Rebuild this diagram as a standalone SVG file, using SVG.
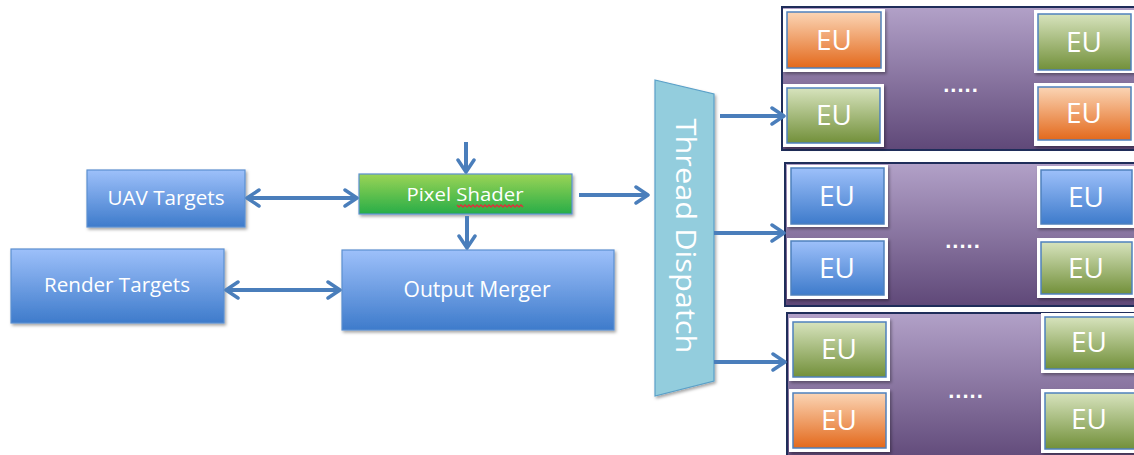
<svg xmlns="http://www.w3.org/2000/svg" width="1134" height="455" viewBox="0 0 1134 455">
<defs>
<linearGradient id="gBlue" x1="0" y1="0" x2="0" y2="1"><stop offset="0" stop-color="#9dc0fa"/><stop offset="1" stop-color="#3e7bcb"/></linearGradient>
<linearGradient id="gPS" x1="0" y1="0" x2="0" y2="1"><stop offset="0" stop-color="#9bd455"/><stop offset="1" stop-color="#27ad48"/></linearGradient>
<linearGradient id="gGreen" x1="0" y1="0" x2="0" y2="1"><stop offset="0" stop-color="#d7e3bd"/><stop offset="1" stop-color="#72903a"/></linearGradient>
<linearGradient id="gOrange" x1="0" y1="0" x2="0" y2="1"><stop offset="0" stop-color="#fbd5b5"/><stop offset="1" stop-color="#e3691c"/></linearGradient>
<linearGradient id="gPurple" x1="0" y1="0" x2="0" y2="1"><stop offset="0" stop-color="#b2a1c8"/><stop offset="1" stop-color="#5f4878"/></linearGradient>
<filter id="sh" x="-10%" y="-10%" width="130%" height="140%"><feDropShadow dx="1.5" dy="2" stdDeviation="1.5" flood-color="#000" flood-opacity="0.35"/></filter>
<marker id="ah" viewBox="0 0 20 20" refX="17" refY="10" markerWidth="20" markerHeight="20" markerUnits="userSpaceOnUse" orient="auto-start-reverse">
<path d="M5,2 L17,10 L5,18" fill="none" stroke="#4a7ebb" stroke-width="3.5" stroke-linecap="round" stroke-linejoin="round"/>
</marker>
</defs>
<style>
.box{stroke:#5b8fd0;stroke-width:1.2;filter:url(#sh)}
.lbl{font-family:"Open Sans","Liberation Sans",sans-serif;fill:#ffffff;text-anchor:middle}
.conn{stroke:#4a7ebb;stroke-width:4;fill:none}
.frame{fill:#ffffff;filter:url(#sh)}
.eu{stroke:#4f81bd;stroke-width:1.5}
.eut{font-family:"Open Sans","Liberation Sans",sans-serif;font-size:28px;fill:#ffffff;text-anchor:middle}
.grp{fill:url(#gPurple);stroke:#1f2d5a;stroke-width:2}
.dots{font-family:"Liberation Sans",sans-serif;font-size:22px;font-weight:bold;fill:#ffffff;text-anchor:middle;letter-spacing:1px}
</style>

<g id="uav-targets">
<rect class="box" x="87" y="170" width="158" height="57" fill="url(#gBlue)"/>
<text class="lbl" x="166" y="205" font-size="20" textLength="117" lengthAdjust="spacingAndGlyphs">UAV Targets</text>
</g>
<g id="render-targets">
<rect class="box" x="11" y="249" width="213" height="74" fill="url(#gBlue)"/>
<text class="lbl" x="117" y="292" font-size="20" textLength="146" lengthAdjust="spacingAndGlyphs">Render Targets</text>
</g>
<g id="pixel-shader">
<rect class="box" x="359" y="174" width="213" height="40" fill="url(#gPS)" stroke="#2e9a40"/>
<text class="lbl" x="465" y="201" font-size="19" textLength="117" lengthAdjust="spacingAndGlyphs">Pixel Shader</text>
<path d="M457,205 l2,2 l2,-2 l2,2 l2,-2 l2,2 l2,-2 l2,2 l2,-2 l2,2 l2,-2 l2,2 l2,-2 l2,2 l2,-2 l2,2 l2,-2 l2,2 l2,-2 l2,2 l2,-2 l2,2 l2,-2 l2,2 l2,-2 l2,2 l2,-2 l2,2 l2,-2 l2,2 l2,-2 l2,2 l2,-2 l2,2" fill="none" stroke="#e0303a" stroke-width="1.3"/>
</g>
<g id="output-merger">
<rect class="box" x="342" y="250" width="272" height="80" fill="url(#gBlue)"/>
<text class="lbl" x="477" y="297" font-size="21" textLength="147" lengthAdjust="spacingAndGlyphs">Output Merger</text>
</g>
<g id="thread-dispatch">
<polygon points="655,80 714,94 714,381 655,396" fill="#93cddd" stroke="#5aa0c8" stroke-width="1.2" filter="url(#sh)"/>
<text class="lbl" transform="translate(676,236) rotate(90)" font-size="28" textLength="235" lengthAdjust="spacingAndGlyphs">Thread Dispatch</text>
</g>

<g id="eu-group-1">
<rect class="grp" x="782" y="7" width="360" height="143"/>
<rect class="frame" x="783" y="9" width="102" height="63"/>
<rect class="eu" x="787" y="12" width="94" height="56" fill="url(#gOrange)"/>
<text class="eut" x="834" y="50">EU</text>
<rect class="frame" x="783" y="84" width="101" height="63"/>
<rect class="eu" x="787" y="88" width="93" height="55" fill="url(#gGreen)"/>
<text class="eut" x="834" y="125">EU</text>
<rect class="frame" x="1034" y="10" width="101" height="63"/>
<rect class="eu" x="1038" y="14" width="93" height="56" fill="url(#gGreen)"/>
<text class="eut" x="1084" y="52">EU</text>
<rect class="frame" x="1034" y="83" width="101" height="63"/>
<rect class="eu" x="1038" y="87" width="93" height="53" fill="url(#gOrange)"/>
<text class="eut" x="1084" y="123">EU</text>
<text class="dots" x="961" y="92">.....</text>
</g>
<g id="eu-group-2">
<rect class="grp" x="785" y="163" width="360" height="143"/>
<rect class="frame" x="787" y="165" width="101" height="62"/>
<rect class="eu" x="791" y="168" width="93" height="56" fill="url(#gBlue)"/>
<text class="eut" x="837" y="206">EU</text>
<rect class="frame" x="787" y="238" width="101" height="61"/>
<rect class="eu" x="791" y="241" width="93" height="54" fill="url(#gBlue)"/>
<text class="eut" x="837" y="278">EU</text>
<rect class="frame" x="1037" y="166" width="100" height="62"/>
<rect class="eu" x="1041" y="170" width="91" height="54" fill="url(#gBlue)"/>
<text class="eut" x="1086" y="207">EU</text>
<rect class="frame" x="1037" y="238" width="100" height="60"/>
<rect class="eu" x="1041" y="242" width="91" height="52" fill="url(#gGreen)"/>
<text class="eut" x="1086" y="278">EU</text>
<text class="dots" x="963" y="248">.....</text>
</g>
<g id="eu-group-3">
<rect class="grp" x="787" y="313" width="360" height="150"/>
<rect class="frame" x="789" y="318" width="101" height="63"/>
<rect class="eu" x="793" y="322" width="93" height="55" fill="url(#gGreen)"/>
<text class="eut" x="839" y="359">EU</text>
<rect class="frame" x="789" y="389" width="101" height="63"/>
<rect class="eu" x="793" y="393" width="93" height="55" fill="url(#gOrange)"/>
<text class="eut" x="839" y="430">EU</text>
<rect class="frame" x="1041" y="313" width="100" height="60"/>
<rect class="eu" x="1045" y="317" width="91" height="52" fill="url(#gGreen)"/>
<text class="eut" x="1089" y="352">EU</text>
<rect class="frame" x="1041" y="389" width="100" height="64"/>
<rect class="eu" x="1045" y="393" width="91" height="56" fill="url(#gGreen)"/>
<text class="eut" x="1089" y="429">EU</text>
<text class="dots" x="966" y="398">.....</text>
</g>

<g id="connectors">
<line class="conn" x1="466" y1="142" x2="466" y2="172" marker-end="url(#ah)"/>
<line class="conn" x1="467" y1="216" x2="467" y2="248" marker-end="url(#ah)"/>
<line class="conn" x1="247" y1="198" x2="357" y2="198" marker-start="url(#ah)" marker-end="url(#ah)"/>
<line class="conn" x1="226" y1="290" x2="340" y2="290" marker-start="url(#ah)" marker-end="url(#ah)"/>
<line class="conn" x1="579" y1="195" x2="648" y2="195" marker-end="url(#ah)"/>
<line class="conn" x1="720" y1="116" x2="784" y2="116" marker-end="url(#ah)"/>
<line class="conn" x1="714" y1="233" x2="784" y2="233" marker-end="url(#ah)"/>
<line class="conn" x1="714" y1="362" x2="785" y2="362" marker-end="url(#ah)"/>
</g>
</svg>
